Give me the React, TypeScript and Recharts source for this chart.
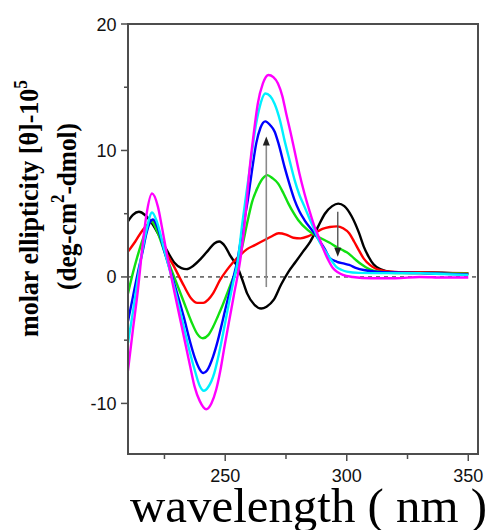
import {
  LineChart,
  Line,
  XAxis,
  YAxis,
  ReferenceLine,
  ReferenceArea,
  ReferenceDot,
} from "recharts";

type Pt = [number, number];

// CD spectra, wavelength (nm) vs molar ellipticity
const blackCurve: Pt[] = [
  [210, 4.4], [212, 4.9], [214.5, 5.15], [217, 4.9], [220, 4.2], [223, 3.2],
  [226, 2.1], [229, 1.15], [232, 0.7], [234, 0.62], [237, 0.9], [240, 1.45],
  [243, 2.1], [245.5, 2.65], [247.5, 2.8], [250, 2.4], [252, 1.7], [255, 0.8],
  [257, -0.2], [259, -1.3], [262, -2.2], [264.8, -2.5], [267, -2.35], [270, -1.8],
  [273, -0.6], [276, 0.4], [279, 1.2], [282, 2.0], [285, 2.8], [288, 3.9],
  [291, 5.0], [294, 5.6], [296.5, 5.8], [299, 5.6], [302, 4.8], [305, 3.5],
  [307, 2.4], [309, 1.6], [311, 1.0], [314, 0.6], [318, 0.4], [325, 0.35],
  [335, 0.35], [345, 0.3], [350, 0.28],
];

const redCurve: Pt[] = [
  [210, 2.0], [213, 2.8], [216, 3.7], [218.5, 4.2], [220.3, 4.4], [222, 3.8],
  [225, 2.2], [229, 0.8], [233, -0.7], [236, -1.7], [238.5, -2.05], [241, -2.05],
  [243, -1.8], [245, -1.3], [248, -0.2], [250.5, 0.5], [253, 1.1], [256, 1.7],
  [259, 2.2], [262, 2.5], [266, 2.9], [269, 3.2], [272, 3.45], [275, 3.35],
  [278, 3.1], [281, 3.05], [284, 3.2], [287, 3.5], [290, 3.8], [293, 3.95],
  [296, 4.0], [298.5, 3.85], [301, 3.45], [303, 2.8], [305, 2.1], [307, 1.45],
  [309.5, 0.95], [312, 0.65], [315, 0.5], [320, 0.4], [330, 0.35], [340, 0.32],
  [350, 0.3],
];

const greenCurve: Pt[] = [
  [210, -1.3], [212, 0.3], [214, 1.7], [216.5, 3.2], [219.6, 4.4], [222, 3.6],
  [225, 2.0], [229, 0.0], [233, -2.0], [236, -3.5], [238.5, -4.5], [240.8, -4.85],
  [243, -4.6], [245, -3.95], [247, -3.1], [249, -2.2], [251, -1.2], [253, -0.2],
  [255, 0.7], [257, 2.4], [259.3, 4.5], [261, 5.9], [263.4, 7.1], [265.5, 7.8],
  [267.3, 8.05], [269.5, 7.8], [271.7, 7.4], [274, 6.6], [276, 5.8], [278, 5.1],
  [280, 4.5], [284, 3.7], [287, 3.3], [290, 3.0], [293, 2.7], [296, 2.35],
  [298, 2.15], [300, 1.95], [302, 1.65], [304, 1.3], [306, 1.0], [308, 0.75],
  [311, 0.5], [314, 0.4], [320, 0.3], [330, 0.3], [340, 0.28], [350, 0.25],
];

const blueCurve: Pt[] = [
  [210, -3.5], [212, -1.6], [214, 0.3], [216, 2.0], [217.6, 3.45], [219, 4.3],
  [220.3, 4.55], [222, 4.0], [225, 2.0], [229, -0.5], [233, -3.2], [235.5, -5.1],
  [237.5, -6.4], [239.5, -7.3], [241, -7.6], [242.5, -7.4], [245, -6.3], [247, -5.0],
  [249, -3.4], [251, -1.8], [253, -0.3], [255, 1.3], [257, 3.6], [259.3, 6.1],
  [261, 8.4], [262.8, 10.6], [264.5, 11.8], [266.5, 12.3], [268.5, 12.0], [270.3, 11.5],
  [272, 10.5], [274.4, 8.7], [276.5, 7.3], [278.5, 6.1], [280.5, 5.2], [282.6, 4.5],
  [286.7, 3.45], [289, 2.8], [291, 2.2], [293, 1.5], [296, 1.2], [299, 1.05],
  [301, 0.95], [304, 0.7], [307, 0.55], [312, 0.42], [320, 0.35], [330, 0.3],
  [340, 0.25], [350, 0.2],
];

const cyanCurve: Pt[] = [
  [210, -5.2], [212, -2.8], [214, -0.2], [216, 2.2], [217.6, 3.7], [219.9, 5.1],
  [222, 4.3], [225, 2.1], [229, -0.8], [233, -4.0], [235.5, -6.0], [237.5, -7.4],
  [239.5, -8.6], [241.2, -9.0], [243, -8.7], [245.5, -7.6], [247.5, -6.0], [249.7, -3.9],
  [251.5, -2.1], [253.2, -0.5], [255.2, 1.3], [257, 4.2], [258.7, 6.6], [260.5, 9.1],
  [262.1, 11.4], [264, 13.3], [266.5, 14.5], [268.5, 14.3], [270.3, 13.7], [272.5, 12.4],
  [274.4, 10.8], [276.5, 9.2], [278.5, 7.7], [280.5, 6.5], [282.6, 5.56], [284.7, 4.6],
  [286.7, 3.72], [289, 2.7], [291, 2.1], [293, 1.5], [295.7, 0.8], [298, 0.55],
  [300, 0.42], [305, 0.32], [315, 0.3], [330, 0.3], [340, 0.22], [350, 0.15],
];

const magentaCurve: Pt[] = [
  [210, -7.4], [212, -4.2], [214.1, -1.0], [216, 2.5], [217.5, 4.8], [219.9, 6.6],
  [222.3, 5.56], [224, 3.9], [225.8, 2.0], [229.2, -1.3], [233.3, -5.0], [235.5, -7.0],
  [237.4, -8.67], [239.5, -9.8], [242.2, -10.46], [244.3, -10.0], [246.3, -8.9], [248, -7.4],
  [249.7, -5.5], [251.5, -3.6], [253.5, -1.5], [256.6, 1.9], [258.5, 5.2], [260, 8.46],
  [261.7, 11.3], [263.4, 13.7], [265.5, 15.3], [267.8, 15.97], [269.8, 15.8], [271.7, 15.3],
  [273.5, 14.3], [275.1, 12.9], [276.8, 11.5], [278.5, 10.0], [280.5, 8.2], [282.6, 6.6],
  [284.7, 5.2], [286.7, 4.0], [288.8, 3.0], [290.8, 2.0], [292.5, 1.3], [294.3, 0.7],
  [296.5, 0.35], [298.4, 0.16], [302.5, 0.0], [310, -0.1], [320, -0.1], [330, 0.0],
  [340, -0.05], [350, -0.05],
];

const series = [
  { key: "black", color: "#000000", points: blackCurve },
  { key: "red", color: "#ff0000", points: redCurve },
  { key: "green", color: "#11e011", points: greenCurve },
  { key: "blue", color: "#0000ff", points: blueCurve },
  { key: "cyan", color: "#00f0ff", points: cyanCurve },
  { key: "magenta", color: "#ff00ff", points: magentaCurve },
];

const xTicks = [225, 250, 275, 300, 325, 350];
const xLabeled = [250, 300, 350];
const yTicks = [-10, -5, 0, 5, 10, 15, 20];
const yLabeled = [-10, 0, 10, 20];

// arrows: [wavelength, from, to]
const upArrow = [266.9, -0.8, 11.1];
const downArrow = [296.3, 5.15, 1.6];

const AXIS = "#4d4d4d";
const SANS = "'Liberation Sans', Arial, sans-serif";
const SERIF = "'Liberation Serif', 'Times New Roman', serif";

function XTick({ x, y, payload }: any) {
  const major = xLabeled.includes(payload.value);
  return (
    <g>
      <line x1={x} x2={x} y1={y} y2={y + (major ? 7 : 5)} stroke={AXIS} strokeWidth={1.5} />
      {major && (
        <text x={x} y={y + 28} textAnchor="middle" fontSize={18} fontFamily={SANS} fill="#111">
          {payload.value}
        </text>
      )}
    </g>
  );
}

function YTick({ x, y, payload }: any) {
  const major = yLabeled.includes(payload.value);
  return (
    <g>
      <line x1={x} x2={x - (major ? 7 : 4)} y1={y} y2={y} stroke={AXIS} strokeWidth={1.5} />
      {major && (
        <text x={x - 11.5} y={y + 6.5} textAnchor="end" fontSize={18} fontFamily={SANS} fill="#111">
          {payload.value}
        </text>
      )}
    </g>
  );
}

const ArrowHeadUp = (p: any) => (
  <path d={`M${p.cx},${p.cy} l-3.5,9 l7,0 z`} fill="#222" />
);
const ArrowHeadDown = (p: any) => (
  <path d={`M${p.cx},${p.cy} l-3.5,-9 l7,0 z`} fill="#222" />
);

export default function App() {
  return (
    <div style={{ position: "absolute", left: 0, top: 0, width: 490, height: 530, background: "#fff" }}>
      <LineChart
        width={490}
        height={530}
        margin={{ top: 24, right: 12, bottom: 46, left: 68 }}
      >
        <XAxis
          dataKey="x"
          type="number"
          domain={[210, 354]}
          ticks={xTicks}
          allowDataOverflow
          height={30}
          tickSize={0}
          tickMargin={0}
          tickLine={false}
          axisLine={{ stroke: AXIS, strokeWidth: 2 }}
          tick={<XTick />}
          interval={0}
        />
        <YAxis
          type="number"
          domain={[-14, 20]}
          ticks={yTicks}
          allowDataOverflow
          width={60}
          tickSize={0}
          tickMargin={0}
          tickLine={false}
          axisLine={{ stroke: AXIS, strokeWidth: 2 }}
          tick={<YTick />}
          interval={0}
        />
        <ReferenceArea
          x1={210}
          x2={354}
          y1={-14}
          y2={20}
          fill="none"
          stroke={AXIS}
          strokeWidth={2}
        />
        <ReferenceLine y={0} stroke="#000" strokeWidth={1} strokeDasharray="4 4" />
        {series.map((s) => (
          <Line
            key={s.key}
            data={s.points.map(([x, y]) => ({ x, y }))}
            dataKey="y"
            type="monotone"
            stroke={s.color}
            strokeWidth={2.4}
            dot={false}
            activeDot={false}
            isAnimationActive={false}
          />
        ))}
        <ReferenceLine
          segment={[
            { x: upArrow[0], y: upArrow[1] },
            { x: upArrow[0], y: upArrow[2] - 0.5 },
          ]}
          stroke="#8a8a8a"
          strokeWidth={1.6}
        />
        <ReferenceDot x={upArrow[0]} y={upArrow[2]} r={0} shape={ArrowHeadUp} />
        <ReferenceLine
          segment={[
            { x: downArrow[0], y: downArrow[1] },
            { x: downArrow[0], y: downArrow[2] + 0.5 },
          ]}
          stroke="#555"
          strokeWidth={1.4}
        />
        <ReferenceDot x={downArrow[0]} y={downArrow[2]} r={0} shape={ArrowHeadDown} />
      </LineChart>
      <svg
        width={490}
        height={530}
        style={{ position: "absolute", left: 0, top: 0, pointerEvents: "none" }}
      >
        <text
          transform="translate(38,208.5) rotate(-90)"
          textAnchor="middle"
          fontFamily={SERIF}
          fontWeight="bold"
          fontSize={27}
          textLength={257}
          lengthAdjust="spacingAndGlyphs"
          fill="#000"
        >
          molar ellipticity [θ]-10<tspan dy={-11} fontSize={18}>5</tspan>
        </text>
        <text
          transform="translate(76,206.5) rotate(-90)"
          textAnchor="middle"
          fontFamily={SERIF}
          fontWeight="bold"
          fontSize={27}
          textLength={167}
          lengthAdjust="spacingAndGlyphs"
          fill="#000"
        >
          (deg-cm<tspan dy={-12} fontSize={18}>2</tspan>
          <tspan dy={12}>-dmol)</tspan>
        </text>
        <text
          x={130}
          y={522}
          fontFamily={SERIF}
          fontSize={49}
          textLength={357}
          lengthAdjust="spacingAndGlyphs"
          fill="#000"
        >
          wavelength ( nm )
        </text>
      </svg>
    </div>
  );
}
